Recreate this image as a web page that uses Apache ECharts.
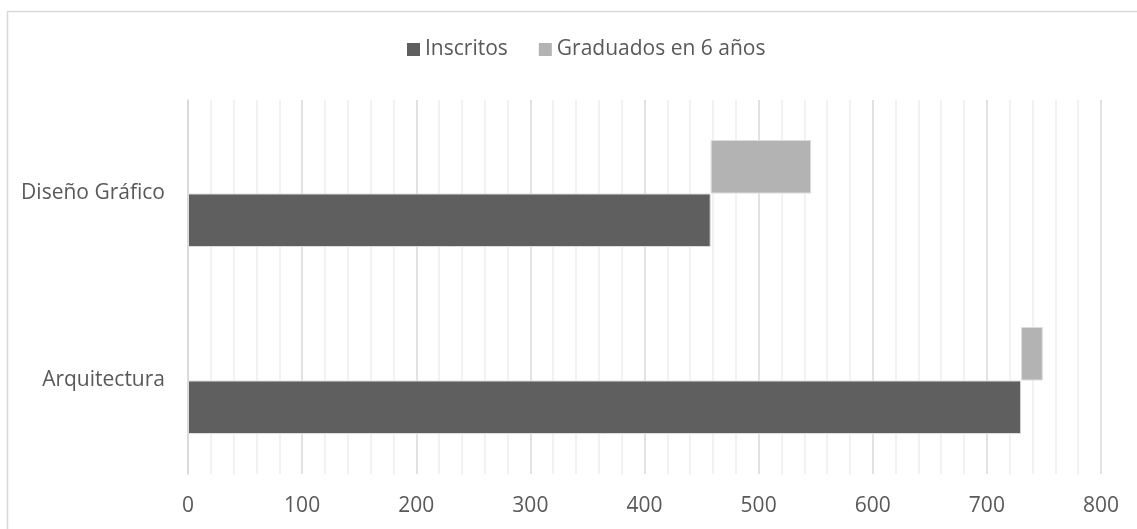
<!DOCTYPE html>
<html>
<head>
<meta charset="utf-8">
<script src="https://cdn.jsdelivr.net/npm/echarts@6/dist/echarts.min.js"></script>
<style>
html,body{margin:0;padding:0;background:#fff;}
#chart{width:1137px;height:529px;}
</style>
</head>
<body>
<div id="chart"></div>
<script>
const categories = ['Arquitectura', 'Diseño Gráfico'];
const inscritos = [730, 458];
const graduados = [19, 88];
const xTicks = [0, 100, 200, 300, 400, 500, 600, 700, 800];

const chart = echarts.init(document.getElementById('chart'));
const font = '"Open Sans", "Liberation Sans", sans-serif';
const textColor = '#595959';

chart.setOption({
  animation: false,
  backgroundColor: '#ffffff',
  textStyle: { fontFamily: font },
  graphic: [{
    type: 'rect', left: 5, top: 9,
    shape: { width: 1140, height: 530 },
    style: { fill: 'none', stroke: '#d9d9d9', lineWidth: 1.5 },
    silent: true
  }],
  legend: {
    top: 34,
    left: 402,
    data: ['Inscritos', 'Graduados en 6 años'],
    icon: 'rect',
    itemWidth: 13,
    itemHeight: 13,
    itemGap: 31,
    itemStyle: { borderWidth: 0 },
    textStyle: { color: textColor, fontSize: 21, fontFamily: font }
  },
  grid: { left: 188, right: 36, top: 100, bottom: 55, containLabel: false },
  xAxis: {
    type: 'value',
    min: xTicks[0],
    max: xTicks[xTicks.length - 1],
    interval: 100,
    axisLine: { show: false },
    axisTick: { show: false },
    axisLabel: { color: textColor, fontSize: 21, margin: 22, fontFamily: font },
    splitLine: { show: true, lineStyle: { color: '#d9d9d9', width: 1.5 } },
    minorTick: { show: false, splitNumber: 5 },
    minorSplitLine: { show: true, lineStyle: { color: '#eeeeee', width: 1.5 } }
  },
  yAxis: {
    type: 'category',
    data: categories,
    axisLine: { show: true, lineStyle: { color: '#d9d9d9', width: 1.5 } },
    axisTick: { show: false },
    axisLabel: { color: textColor, fontSize: 21, margin: 23, fontFamily: font }
  },
  series: [
    {
      name: 'base',
      type: 'bar',
      stack: 'b',
      data: inscritos,
      barWidth: 53.5,
      barGap: '0%',
      itemStyle: { color: 'rgba(0,0,0,0)' },
      silent: true,
      legendHoverLink: false
    },
    {
      name: 'Graduados en 6 años',
      type: 'bar',
      stack: 'b',
      data: graduados,
      barWidth: 53.5,
      barGap: '0%',
      itemStyle: { color: '#b3b3b3', borderColor: '#dcdcdc', borderWidth: 1 }
    },
    {
      name: 'Inscritos',
      type: 'bar',
      stack: 'a',
      data: inscritos,
      barWidth: 53.5,
      barGap: '0%',
      itemStyle: { color: '#5f5f5f', borderColor: '#dcdcdc', borderWidth: 1 }
    }
  ]
});
</script>
</body>
</html>
